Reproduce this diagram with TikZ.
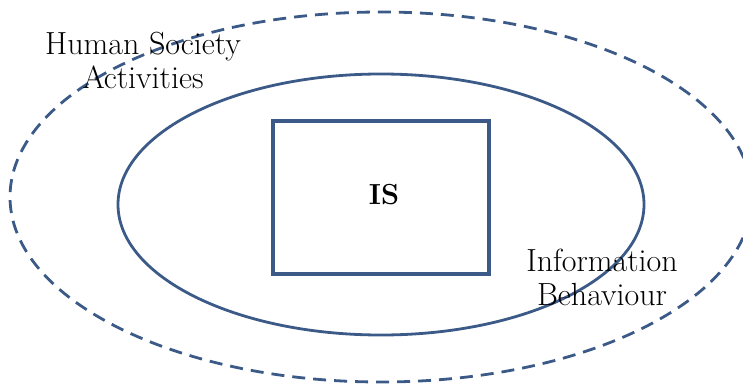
\documentclass[tikz,border=0pt]{standalone}
\usepackage{tikz}
\definecolor{lineblue}{HTML}{3C5A88}
\tikzset{
  outerring/.style={draw=lineblue, line width=2.8pt, dash pattern=on 13pt off 8pt},
  innerring/.style={draw=lineblue, line width=2.8pt},
  isbox/.style={draw=lineblue, line width=3.2pt, minimum width=216pt, minimum height=153pt, inner sep=0pt},
  istxt/.style={font=\fontsize{29}{32}\selectfont\bfseries, inner sep=0pt},
  lbl/.style={align=center, font=\fontsize{32}{34}\selectfont, inner sep=0pt}
}
\begin{document}
\begin{tikzpicture}[x=1pt,y=-1pt]
\useasboundingbox (0,0) rectangle (743,385);
\path[outerring] (381,197) ellipse [x radius=371, y radius=185];
\path[innerring] (381,204.5) ellipse [x radius=263, y radius=130.5];
\node[isbox] (is) at (381,197.5) {};
\node[istxt] (istext) at (384,195) {IS};
\node[lbl] (hsa) at (143,60) {Human Society\\Activities};
\node[lbl] (ib) at (602,277) {Information\\Behaviour};
\end{tikzpicture}
\end{document}
